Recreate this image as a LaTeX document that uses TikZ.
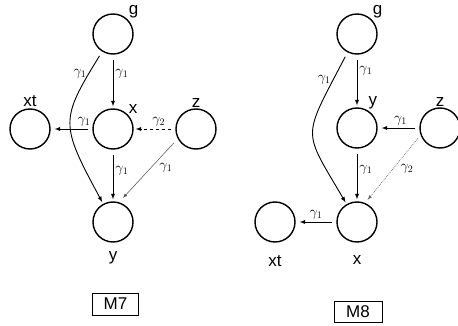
\documentclass[tikz,border=0pt]{standalone}
\usepackage[no-math]{fontspec}
\setmainfont{Liberation Sans}
\usetikzlibrary{arrows,positioning}

\begin{document}
\begin{tikzpicture}[x=1pt,y=-1pt,
    var/.style={draw,circle,line width=1.4pt,minimum size=40pt,inner sep=0pt},
    nm/.style={font=\fontsize{17}{19}\selectfont,inner sep=1pt},
    gam/.style={font=\fontsize{14}{16}\selectfont,inner sep=2pt},
    edge/.style={->,>=latex,line width=0.9pt,shorten <=5pt,shorten >=2pt},
    mbox/.style={draw,line width=0.8pt,minimum width=46pt,minimum height=22pt,inner sep=0pt,font=\fontsize{17}{19}\selectfont}]
  \useasboundingbox (0,0) rectangle (458,326);

  % M7
  \node[var,label={[nm]45:g}] (g7) at (113,34) {};
  \node[var,label={[nm]above:xt}] (xt7) at (30,129) {};
  \node[var,label={[nm]45:x}] (x7) at (113,129) {};
  \node[var,label={[nm]above:z}] (z7) at (196,129) {};
  \node[var,label={[nm,label distance=8pt]below:y}] (y7) at (113,222) {};

  \draw[edge] (g7) -- node[gam,right,pos=.35] {$\gamma_1$} (x7);
  \draw[edge] (g7) .. controls (60,120) and (60,124) .. node[gam,left,pos=.12] {$\gamma_1$} (y7);
  \draw[edge,shorten <=4pt,shorten >=4pt] (x7) -- node[gam,above,pos=.2] {$\gamma_1$} (xt7);
  \draw[edge,dashed,shorten <=4pt] (z7) -- node[gam,above,pos=.4] {$\gamma_2$} (x7);
  \draw[edge] (x7) -- node[gam,right,pos=.4] {$\gamma_1$} (y7);
  \draw[edge,line width=0.5pt,draw=black!70,shorten <=6pt,shorten >=6pt] (z7.208) -- node[gam,below right,pos=.35] {$\gamma_1$} (y7.73);

  \node[mbox] (m7) at (115.5,304) {M7};

  % M8
  \node[var,label={[nm]45:g}] (g8) at (357,34) {};
  \node[var,label={[nm]60:y}] (y8) at (357,128) {};
  \node[var,label={[nm]above:z}] (z8) at (440,128) {};
  \node[var,label={[nm,label distance=12pt]below:x}] (x8) at (357,222) {};
  \node[var,label={[nm,label distance=12pt]below:xt}] (xt8) at (275,222) {};

  \draw[edge] (g8) -- node[gam,right,pos=.3] {$\gamma_1$} (y8);
  \draw[edge] (g8) .. controls (302,140) and (302,128) .. node[gam,left,pos=.12] {$\gamma_1$} (x8);
  \draw[edge,shorten <=4pt,shorten >=4pt] (z8) -- node[gam,above,pos=.45] {$\gamma_1$} (y8);
  \draw[edge] (y8) -- node[gam,right,pos=.4] {$\gamma_1$} (x8);
  \draw[edge,densely dotted,line width=0.6pt,draw=black!60,shorten <=4pt,shorten >=4pt] (z8.200) -- node[gam,below right,pos=.4] {$\gamma_2$} (x8.67);
  \draw[edge,shorten <=4pt,shorten >=4pt] (x8) -- node[gam,above] {$\gamma_1$} (xt8);

  \node[mbox,minimum width=48pt,minimum height=21pt] (m8) at (358,312) {M8};
\end{tikzpicture}
\end{document}
